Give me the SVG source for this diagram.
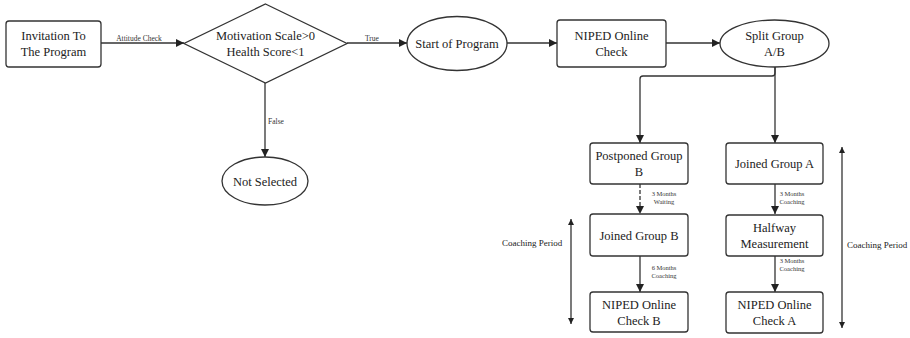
<svg xmlns="http://www.w3.org/2000/svg" width="910" height="338" viewBox="0 0 910 338">
<defs>
<style>
.n{fill:#fff;stroke:#333;stroke-width:1.3}
.t{font-family:"Liberation Serif","Times New Roman",serif;font-size:12.5px;fill:#222;text-anchor:middle}
.l{font-family:"Liberation Serif","Times New Roman",serif;font-size:7.5px;fill:#333;text-anchor:middle}
.s{font-family:"Liberation Serif","Times New Roman",serif;font-size:6.5px;fill:#333;text-anchor:middle}
.c{fill:none;stroke:#333;stroke-width:1.3}
.cp{font-family:"Liberation Serif","Times New Roman",serif;font-size:9px;fill:#222}
</style>
<marker id="a" viewBox="0 0 10 10" refX="10" refY="5" markerWidth="8" markerHeight="8" markerUnits="userSpaceOnUse" orient="auto"><path d="M0,0L10,5L0,10z" fill="#222"/></marker>
<marker id="b" viewBox="0 0 10 10" refX="10" refY="5" markerWidth="6" markerHeight="6" markerUnits="userSpaceOnUse" orient="auto-start-reverse"><path d="M0,0L10,5L0,10z" fill="#222"/></marker>
</defs>
<rect width="910" height="338" fill="#fff"/>
<g id="connectors">
<path class="c" d="M101,43H184" marker-end="url(#a)"/>
<text class="l" x="139" y="41">Attitude Check</text>
<path class="c" d="M347,43H407" marker-end="url(#a)"/>
<text class="l" x="372" y="41">True</text>
<path class="c" d="M265,83V157" marker-end="url(#a)"/>
<text class="l" x="276" y="124">False</text>
<path class="c" d="M507,43H557" marker-end="url(#a)"/>
<path class="c" d="M666,43H720" marker-end="url(#a)"/>
<path class="c" d="M775,67V73Q775,76 772,76H643Q640,76 640,79V143" marker-end="url(#a)"/>
<path class="c" d="M775,67V143" marker-end="url(#a)"/>
<path class="c" d="M640,184V214" stroke-dasharray="4,2" marker-end="url(#a)"/>
<text class="s" x="664" y="196">3 Months</text>
<text class="s" x="664" y="204">Waiting</text>
<path class="c" d="M640,256V292" marker-end="url(#a)"/>
<text class="s" x="664" y="270">6 Months</text>
<text class="s" x="664" y="278">Coaching</text>
<path class="c" d="M775,184V214" marker-end="url(#a)"/>
<text class="s" x="792" y="196">3 Months</text>
<text class="s" x="792" y="204">Coaching</text>
<path class="c" d="M775,256V292" marker-end="url(#a)"/>
<text class="s" x="792" y="263">3 Months</text>
<text class="s" x="792" y="271">Coaching</text>
<path class="c" d="M571,219V324" marker-start="url(#b)" marker-end="url(#b)"/>
<text class="cp" x="502" y="246">Coaching Period</text>
<path class="c" d="M842,147V328" marker-start="url(#b)" marker-end="url(#b)"/>
<text class="cp" x="847" y="248">Coaching Period</text>
</g>
<g id="invitation">
<rect class="n" x="6" y="21" width="95" height="46" rx="3"/>
<text class="t" x="53.5" y="40">Invitation To</text>
<text class="t" x="53.5" y="56">The Program</text>
</g>
<g id="decision">
<path class="n" d="M265.5,4L347,43.5L265.5,83L184,43.5Z"/>
<text class="t" x="265.5" y="40">Motivation Scale&gt;0</text>
<text class="t" x="265.5" y="56">Health Score&lt;1</text>
</g>
<g id="not-selected">
<ellipse class="n" cx="265" cy="181" rx="43" ry="24"/>
<text class="t" x="265" y="185.5">Not Selected</text>
</g>
<g id="start">
<ellipse class="n" cx="457" cy="43.5" rx="50" ry="27"/>
<text class="t" x="457" y="48">Start of Program</text>
</g>
<g id="niped-check">
<rect class="n" x="557" y="20" width="109" height="47" rx="3"/>
<text class="t" x="611.5" y="40">NIPED Online</text>
<text class="t" x="611.5" y="56">Check</text>
</g>
<g id="split">
<ellipse class="n" cx="774.5" cy="43.5" rx="54.5" ry="23.5"/>
<text class="t" x="774.5" y="40">Split Group</text>
<text class="t" x="774.5" y="56">A/B</text>
</g>
<g id="postponed-b">
<rect class="n" x="590" y="143" width="98" height="41" rx="3"/>
<text class="t" x="639" y="160">Postponed Group</text>
<text class="t" x="639" y="176">B</text>
</g>
<g id="joined-b">
<rect class="n" x="590" y="214" width="98" height="42" rx="3"/>
<text class="t" x="639" y="239.5">Joined Group B</text>
</g>
<g id="check-b">
<rect class="n" x="590" y="292" width="98" height="40" rx="3"/>
<text class="t" x="639" y="308.5">NIPED Online</text>
<text class="t" x="639" y="324.5">Check B</text>
</g>
<g id="joined-a">
<rect class="n" x="726" y="143" width="97" height="41" rx="3"/>
<text class="t" x="774.5" y="168">Joined Group A</text>
</g>
<g id="halfway">
<rect class="n" x="726" y="215" width="97" height="41" rx="3"/>
<text class="t" x="774.5" y="232">Halfway</text>
<text class="t" x="774.5" y="248">Measurement</text>
</g>
<g id="check-a">
<rect class="n" x="726" y="292" width="97" height="41" rx="3"/>
<text class="t" x="774.5" y="309">NIPED Online</text>
<text class="t" x="774.5" y="325">Check A</text>
</g>
</svg>
